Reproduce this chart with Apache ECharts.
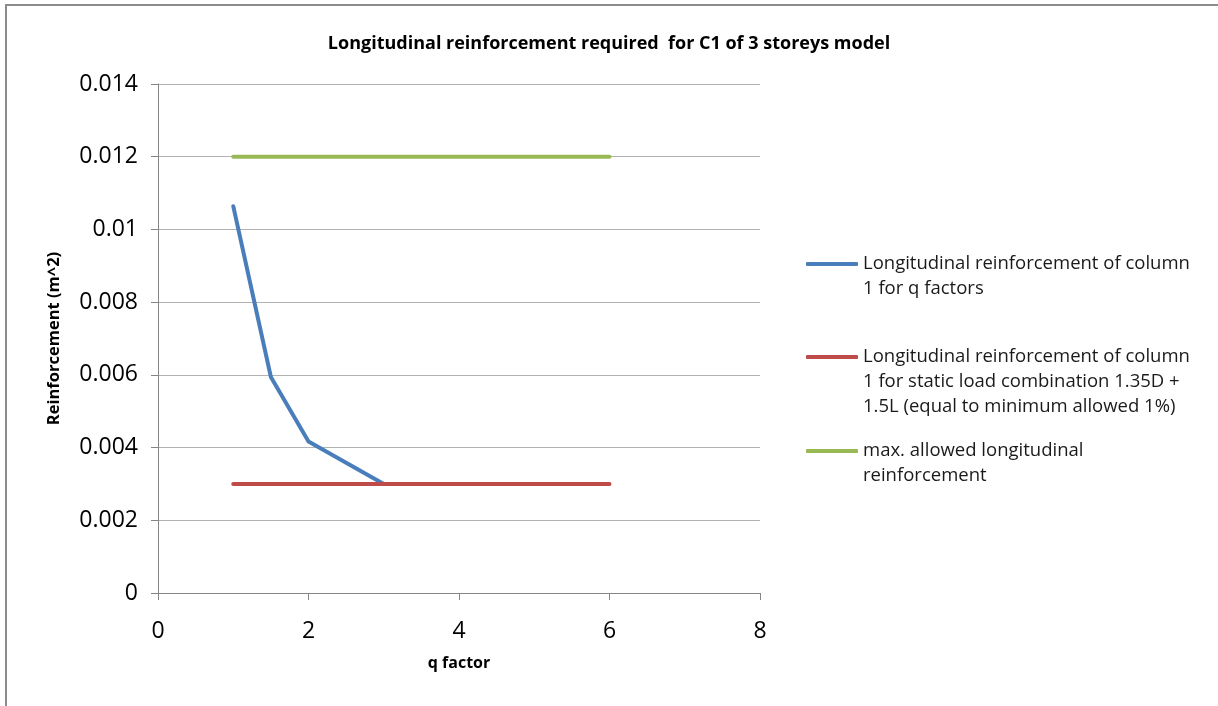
<!DOCTYPE html>
<html>
<head>
<meta charset="utf-8">
<title>Longitudinal reinforcement required for C1 of 3 storeys model</title>
<script src="https://cdn.jsdelivr.net/npm/echarts@6/dist/echarts.min.js"></script>
<style>
  html, body { margin: 0; padding: 0; background: #ffffff; }
  #chart { width: 1218px; height: 706px; }
</style>
</head>
<body>
<div id="chart"></div>
<script>
// q factor values and required reinforcement (m^2) for column C1
const qFactors = [1, 1.5, 2, 3];
const reinforcementQ = [0.01064, 0.00594, 0.00417, 0.0030];

// static load combination 1.35D + 1.5L (minimum allowed 1%)
const staticQ = [1, 6];
const staticReinforcement = [0.003, 0.003];

// maximum allowed longitudinal reinforcement
const maxQ = [1, 6];
const maxReinforcement = [0.012, 0.012];

const seriesNames = [
  'Longitudinal reinforcement of column 1 for q factors',
  'Longitudinal reinforcement of column 1 for static load combination 1.35D + 1.5L (equal to minimum allowed 1%)',
  'max. allowed longitudinal reinforcement'
];
const legendLines = [
  ['Longitudinal reinforcement of column', '1 for q factors'],
  ['Longitudinal reinforcement of column', '1 for static load combination 1.35D +', '1.5L (equal to minimum allowed 1%)'],
  ['max. allowed longitudinal', 'reinforcement']
];
const seriesColors = ['#4a7ebb', '#be4b48', '#98b954'];

const xTicks = { min: 0, max: 8, interval: 2 };
const yTicks = { min: 0, max: 0.014, interval: 0.002 };

const pairs = (xs, ys) => xs.map((x, i) => [x, ys[i]]);

const FONT = '"Open Sans", "Noto Sans", sans-serif';
const LEGEND_LH = 25;
const legendCenters = [264, 357, 451];

// Each legend entry keeps its swatch level with the first text line:
// blank lines above the label balance the vertically centred text block.
const legends = seriesNames.map((name, i) => {
  const n = legendLines[i].length;
  const h = (2 * n - 1) * LEGEND_LH;
  const blank = new Array(n - 1).fill(' ');
  return {
    orient: 'vertical',
    left: 806,
    top: legendCenters[i] - h / 2,
    padding: 0,
    icon: 'roundRect',
    itemWidth: 52,
    itemHeight: 4,
    itemGap: 0,
    data: [name],
    formatter: () => blank.concat(legendLines[i]).join('\n'),
    itemStyle: { color: seriesColors[i] },
    textStyle: {
      fontFamily: FONT,
      fontSize: 18.5,
      lineHeight: LEGEND_LH,
      color: '#1a1a1a'
    }
  };
});

const chart = echarts.init(document.getElementById('chart'), null, { renderer: 'canvas' });

const lineSeries = (name, data, color) => ({
  name: name,
  type: 'line',
  data: data,
  symbol: 'none',
  smooth: false,
  animation: false,
  lineStyle: { width: 4, color: color, cap: 'round', join: 'round' },
  itemStyle: { color: color }
});

chart.setOption({
  animation: false,
  backgroundColor: '#ffffff',
  title: {
    text: 'Longitudinal reinforcement required  for C1 of 3 storeys model',
    left: 'center',
    top: 30,
    textStyle: { fontFamily: FONT, fontSize: 18, fontWeight: 'bold', color: '#000000' }
  },
  legend: legends,
  grid: { left: 158, right: 458, top: 84, bottom: 113, containLabel: false },
  xAxis: {
    type: 'value',
    min: xTicks.min,
    max: xTicks.max,
    interval: xTicks.interval,
    name: 'q factor',
    nameLocation: 'middle',
    nameGap: 62,
    nameTextStyle: { fontFamily: FONT, fontSize: 16, fontWeight: 'bold', color: '#000000' },
    axisLine: { show: true, lineStyle: { color: '#868686', width: 1 } },
    axisTick: { show: true, inside: false, length: 7, lineStyle: { color: '#868686' } },
    axisLabel: { fontFamily: FONT, fontSize: 23, color: '#000000', margin: 27 },
    splitLine: { show: false }
  },
  yAxis: {
    type: 'value',
    min: yTicks.min,
    max: yTicks.max,
    interval: yTicks.interval,
    name: 'Reinforcement (m^2)',
    nameLocation: 'middle',
    nameGap: 95,
    nameTextStyle: { fontFamily: FONT, fontSize: 16.5, fontWeight: 'bold', color: '#000000' },
    axisLine: { show: true, lineStyle: { color: '#868686', width: 1 } },
    axisTick: { show: true, inside: false, length: 7, lineStyle: { color: '#868686' } },
    axisLabel: { fontFamily: FONT, fontSize: 23, color: '#000000', margin: 20 },
    splitLine: { show: true, lineStyle: { color: '#b3b3b3', width: 1 } }
  },
  graphic: [
    { type: 'line', silent: true, shape: { x1: 6, y1: 4, x2: 6, y2: 706 }, style: { stroke: '#8c8c8c', lineWidth: 2 } },
    { type: 'line', silent: true, shape: { x1: 5, y1: 5, x2: 1218, y2: 5 }, style: { stroke: '#8c8c8c', lineWidth: 2 } }
  ],
  series: [
    lineSeries(seriesNames[0], pairs(qFactors, reinforcementQ), seriesColors[0]),
    lineSeries(seriesNames[1], pairs(staticQ, staticReinforcement), seriesColors[1]),
    lineSeries(seriesNames[2], pairs(maxQ, maxReinforcement), seriesColors[2])
  ]
});
</script>
</body>
</html>
